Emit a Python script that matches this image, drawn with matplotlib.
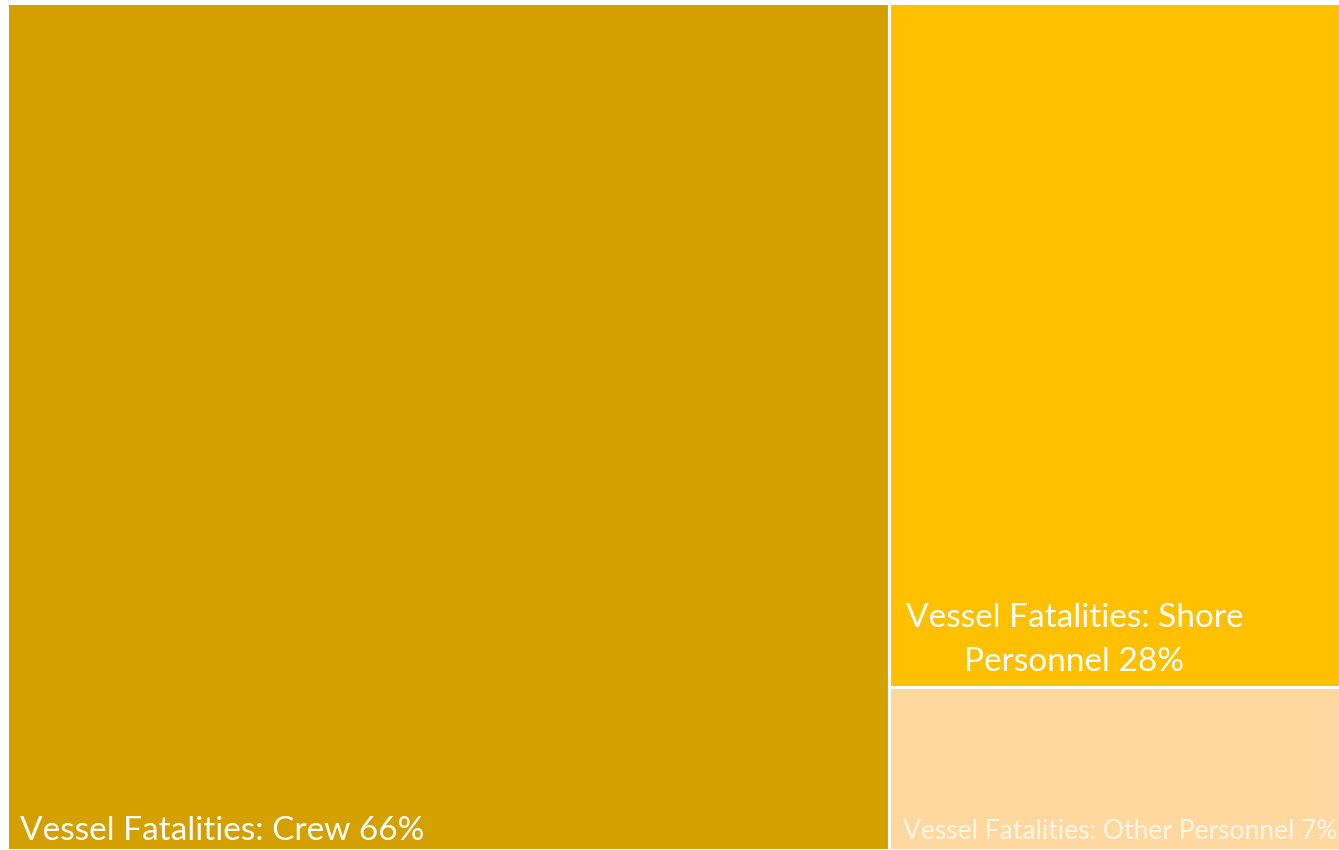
import matplotlib
matplotlib.use('Agg')
import matplotlib.pyplot as plt
from matplotlib.patches import Rectangle

# treemap data (shares estimated from the tile areas, labels as printed)
categories = ['Vessel Fatalities: Crew', 'Vessel Fatalities: Shore\nPersonnel', 'Vessel Fatalities: Other Personnel']
shares = [66.2, 27.3, 6.5]
pct_labels = ['66%', '28%', '7%']
colors = ['#D4A000', '#FFC000', '#FFD8A0']

plt.rcParams['font.family'] = ['Lato', 'DejaVu Sans']

fig = plt.figure(figsize=(13.39, 8.5), dpi=100)
ax = fig.add_axes([7 / 1339, 0, 1333 / 1339, 847 / 850])
W, H = 1333.0, 847.0
ax.set_xlim(0, W)
ax.set_ylim(0, H)
ax.axis('off')

total = sum(shares)
# first tile takes a full-height column, the rest stack in the remaining column
w0 = W * shares[0] / total
rects = [(0, 0, w0, H)]
rest = sum(shares[1:])
y = H
for s in shares[1:]:
    h = H * s / rest
    rects.append((w0, y - h, W - w0, h))
    y -= h

for (x0, y0, w, h), c in zip(rects, colors):
    ax.add_patch(Rectangle((x0, y0), w, h, facecolor=c, edgecolor='white', linewidth=2.2))

# labels
x0, y0, w, h = rects[0]
ax.text(x0 + 13, y0 + 4, f'{categories[0]} {pct_labels[0]}', color='white',
        fontsize=24, ha='left', va='bottom')
x0, y0, w, h = rects[1]
ax.text(x0 + 185, y0 + 10, f'{categories[1]} {pct_labels[1]}', color='white',
        fontsize=24, ha='center', va='bottom', multialignment='center', linespacing=1.6)
x0, y0, w, h = rects[2]
ax.text(x0 + 14, y0 + 6, f'{categories[2]} {pct_labels[2]}', color='#FFF6EA',
        fontsize=19, ha='left', va='bottom', clip_on=True)

fig.savefig('out.png', dpi=100)
